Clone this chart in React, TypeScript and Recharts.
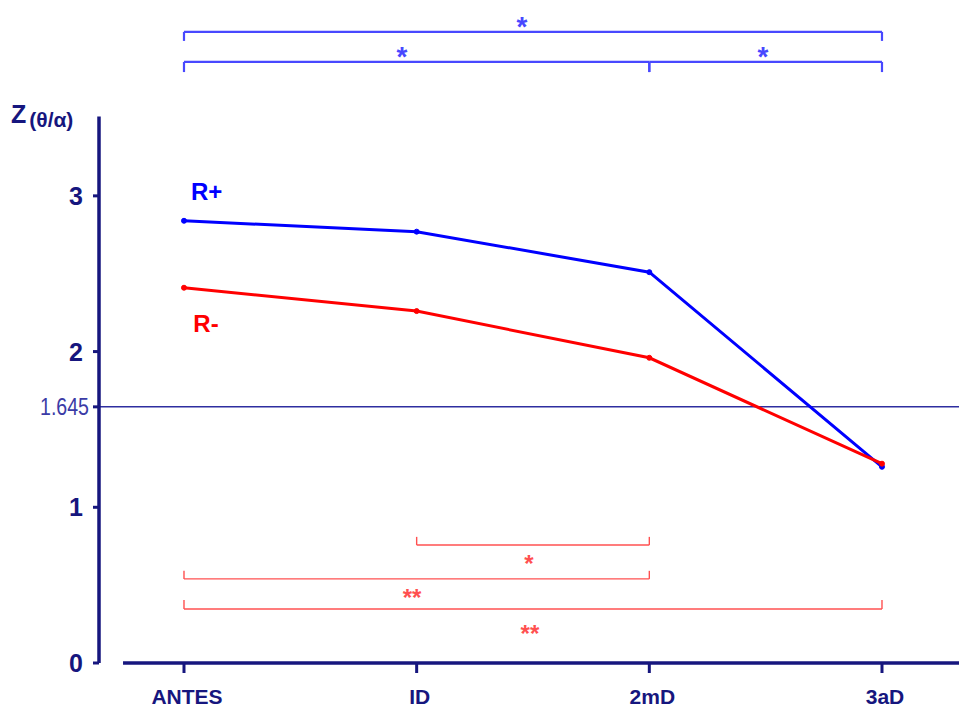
import React from 'react';
import { LineChart, Line, XAxis, YAxis, ReferenceLine, ReferenceDot } from 'recharts';

const categories = ['ANTES', 'ID', '2mD', '3aD'];
const rPlus = [2.84, 2.77, 2.51, 1.26];
const rMinus = [2.41, 2.26, 1.96, 1.28];
const yTicks = [0, 1, 1.645, 2, 3];
const threshold = 1.645;
const yAxisTop = 3.51;

// significance brackets (category index range, bracket level, tip level, mark position, mark)
const blueBrackets = [
  { from: 0, to: 3, level: 4.053, tip: 3.995, markX: 1.453, markAt: 4.13, mark: '*' },
  { from: 0, to: 2, level: 3.86, tip: 3.795, markX: 0.937, markAt: 3.935, mark: '*' },
  { from: 2, to: 3, level: 3.86, tip: 3.795, markX: 2.488, markAt: 3.935, mark: '*' },
];
const redBrackets = [
  { from: 1, to: 2, level: 0.758, tip: 0.81, markX: 1.483, markAt: 0.672, mark: '*' },
  { from: 0, to: 2, level: 0.54, tip: 0.592, markX: 0.98, markAt: 0.455, mark: '**' },
  { from: 0, to: 3, level: 0.347, tip: 0.405, markX: 1.487, markAt: 0.225, mark: '**' },
];

const rows = categories.map((c, i) => ({ x: i, cat: c, rPlus: rPlus[i], rMinus: rMinus[i] }));

const X_MIN = -0.3653;
const X_MAX = 3.331;
const X_LINE_START = -0.262;
const NAVY = '#16167e';
const BLUE = '#0000ff';
const RED = '#ff0000';
const BR_BLUE = '#4848ff';
const BR_RED = '#ff5050';
const FONT = '"Liberation Sans", Arial, Helvetica, sans-serif';

const XTick = (props: any) => {
  const { x, y, payload } = props;
  return (
    <text x={x + 3} y={y} dy={14} textAnchor="middle" fill={NAVY} fontFamily={FONT} fontWeight="bold" fontSize={21}>
      {categories[payload.value]}
    </text>
  );
};

const YTick = (props: any) => {
  const { x, y, payload } = props;
  if (payload.value === threshold) {
    return (
      <text x={x + 6} y={y} dy={8.5} textAnchor="end" fill="#3b3ba6" fontFamily={FONT} fontSize={24}
        textLength={49} lengthAdjust="spacingAndGlyphs">
        {String(payload.value)}
      </text>
    );
  }
  return (
    <text x={x} y={y} dy={9} textAnchor="end" fill={NAVY} fontFamily={FONT} fontWeight="bold" fontSize={25}>
      {String(payload.value)}
    </text>
  );
};

const markContent = (text: string, color: string, size: number) => (p: any) => {
  const vb = p.viewBox || {};
  const cx = (vb.x || 0) + (vb.width || 0) / 2;
  const cy = (vb.y || 0) + (vb.height || 0) / 2;
  return (
    <text x={cx} y={cy + size * 0.57} textAnchor="middle" fill={color} fontFamily={FONT} fontWeight="bold" fontSize={size}>
      {text}
    </text>
  );
};

const seriesLabel = (text: string, color: string) => (p: any) => {
  const vb = p.viewBox || {};
  const cx = (vb.x || 0) + (vb.width || 0) / 2;
  const cy = (vb.y || 0) + (vb.height || 0) / 2;
  return (
    <text x={cx} y={cy + 8.5} textAnchor="start" fill={color} fontFamily={FONT} fontWeight="bold" fontSize={24}>
      {text}
    </text>
  );
};

const zLabel = (p: any) => {
  const vb = p.viewBox || {};
  const cx = (vb.x || 0) + (vb.width || 0) / 2;
  const cy = (vb.y || 0) + (vb.height || 0) / 2;
  return (
    <text x={cx - 88} y={cy + 7} fill={NAVY} fontFamily={FONT}>
      <tspan fontWeight="bold" fontSize={25}>Z</tspan>
      <tspan fontSize={21} fontWeight="bold" dx={3} dy={4}>(θ/α)</tspan>
    </text>
  );
};

const renderBrackets = (list: typeof blueBrackets, color: string, width: number, markSize: number, key: string) => {
  const out: any[] = [];
  list.forEach((b, i) => {
    out.push(
      <ReferenceLine key={`${key}h${i}`} segment={[{ x: b.from, y: b.level }, { x: b.to, y: b.level }]}
        stroke={color} strokeWidth={width} ifOverflow="visible" />
    );
    out.push(
      <ReferenceLine key={`${key}a${i}`} segment={[{ x: b.from, y: b.level }, { x: b.from, y: b.tip }]}
        stroke={color} strokeWidth={width} ifOverflow="visible" />
    );
    out.push(
      <ReferenceLine key={`${key}b${i}`} segment={[{ x: b.to, y: b.level }, { x: b.to, y: b.tip }]}
        stroke={color} strokeWidth={width} ifOverflow="visible" />
    );
    out.push(
      <ReferenceDot key={`${key}m${i}`} x={b.markX} y={b.markAt} r={0} fill="none" stroke="none"
        ifOverflow="visible" label={{ content: markContent(b.mark, color, markSize) }} />
    );
  });
  return out;
};

export default function App() {
  return (
    <div style={{ position: 'absolute', left: 0, top: 0, width: 959, height: 708, background: '#fff' }}>
      <LineChart width={959} height={708} data={rows} margin={{ top: 9, right: 0, bottom: 0, left: 0 }}>
        <XAxis type="number" dataKey="x" domain={[X_MIN, X_MAX]} ticks={[0, 1, 2, 3]} allowDataOverflow
          axisLine={false} tickLine={{ stroke: NAVY, strokeWidth: 3 }} tickSize={10} tickMargin={17}
          height={45} tick={(p: any) => <XTick {...p} />} interval={0} />
        <YAxis type="number" domain={[0, 4.2]} ticks={yTicks} width={99} allowDataOverflow
          axisLine={false} tickLine={{ stroke: NAVY, strokeWidth: 3 }} tickSize={6} tickMargin={10}
          tick={(p: any) => <YTick {...p} />} interval={0} />
        <ReferenceLine y={threshold} stroke="#2e2ea0" strokeWidth={1.5} />
        <ReferenceLine segment={[{ x: X_MIN, y: 0 }, { x: X_MIN, y: yAxisTop }]} stroke={NAVY} strokeWidth={3.5} ifOverflow="visible" />
        <ReferenceLine segment={[{ x: X_LINE_START, y: 0 }, { x: X_MAX, y: 0 }]} stroke={NAVY} strokeWidth={3.5} ifOverflow="visible" />
        {renderBrackets(blueBrackets, BR_BLUE, 2.2, 28, 'b')}
        {renderBrackets(redBrackets, BR_RED, 1.4, 24, 'r')}
        <ReferenceDot x={X_MIN} y={yAxisTop} r={0} fill="none" stroke="none" ifOverflow="visible" label={{ content: zLabel }} />
        <ReferenceDot x={0.03} y={3.03} r={0} fill="none" stroke="none" ifOverflow="visible" label={{ content: seriesLabel('R+', BLUE) }} />
        <ReferenceDot x={0.04} y={2.18} r={0} fill="none" stroke="none" ifOverflow="visible" label={{ content: seriesLabel('R-', RED) }} />
        <Line type="linear" dataKey="rPlus" stroke={BLUE} strokeWidth={3} dot={{ r: 2.5, fill: BLUE, stroke: BLUE, strokeWidth: 1 }} isAnimationActive={false} />
        <Line type="linear" dataKey="rMinus" stroke={RED} strokeWidth={3} dot={{ r: 2.5, fill: RED, stroke: RED, strokeWidth: 1 }} isAnimationActive={false} />
      </LineChart>
    </div>
  );
}
